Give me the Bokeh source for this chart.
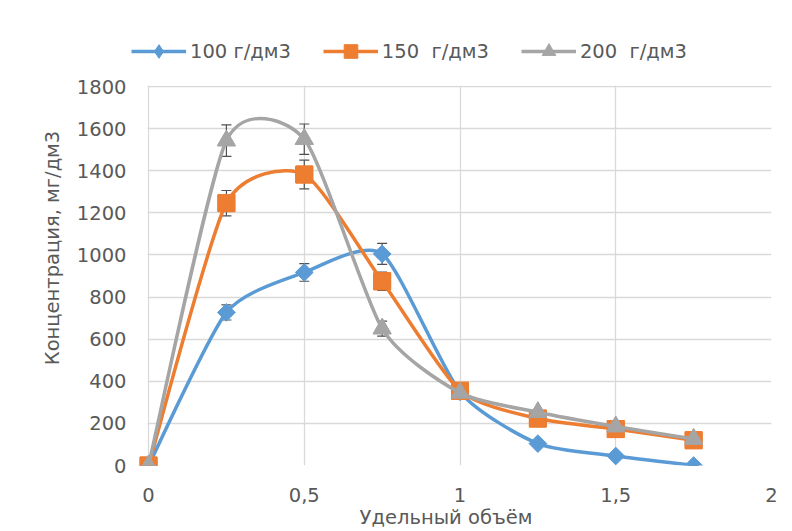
from bokeh.plotting import figure
from bokeh.models import (ColumnDataSource, Range1d, FixedTicker, CustomJSTickFormatter,
                          Whisker, TeeHead, Legend, LegendItem, BoxAnnotation)
from bokeh.embed import file_html
from bokeh.resources import INLINE

# ---- data ----
x_vals = [0, 0.25, 0.5, 0.75, 1.0, 1.25, 1.5, 1.75]
c100 = [0, 727, 917, 1005, 350, 104, 45, 0]
c150 = [0, 1246, 1382, 875, 355, 223, 173, 120]
c200 = [0, 1543, 1550, 650, 345, 253, 185, 126]
err100 = [0, 36, 42, 50, 0, 0, 0, 0]
err150 = [0, 60, 68, 43, 0, 0, 0, 0]
err200 = [0, 75, 72, 36, 0, 0, 0, 0]
labels = ["100 г/дм3", "150  г/дм3", "200  г/дм3"]
colors = ["#5B9BD5", "#ED7D31", "#A5A5A5"]
x_ticks = [0, 0.5, 1, 1.5, 2]
y_ticks = list(range(0, 1801, 200))

FONT = "DejaVu Sans"
FS = "19.5px"
TXT = "#595959"
GRID = "#d9d9d9"


def smooth_segments(xs, ys, f=0.11):
    n = len(xs)
    d = dict(x0=[], y0=[], x1=[], y1=[], cx0=[], cy0=[], cx1=[], cy1=[])
    for i in range(n - 1):
        xp, yp = (xs[i - 1], ys[i - 1]) if i > 0 else (xs[i], ys[i])
        xn2, yn2 = (xs[i + 2], ys[i + 2]) if i + 2 < n else (xs[i + 1], ys[i + 1])
        d["x0"].append(xs[i]); d["y0"].append(ys[i])
        d["x1"].append(xs[i + 1]); d["y1"].append(ys[i + 1])
        d["cx0"].append(xs[i] + (xs[i + 1] - xp) * f)
        d["cy0"].append(ys[i] + (ys[i + 1] - yp) * f)
        d["cx1"].append(xs[i + 1] - (xn2 - xs[i]) * f)
        d["cy1"].append(ys[i + 1] - (yn2 - ys[i]) * f)
    return d


# frame extends left of x=0 and above 1800 so the legend is not clipped;
# those strips are blanked out below.
p = figure(width=792, height=531, output_backend="svg", toolbar_location=None,
           x_range=Range1d(-0.09, 2), y_range=Range1d(0, 2066),
           min_border_left=120, min_border_right=21, min_border_top=30, min_border_bottom=66)
p.outline_line_color = None
p.background_fill_color = "white"
p.border_fill_color = "white"

for ax in (p.xaxis[0], p.yaxis[0]):
    ax.axis_line_color = None
    ax.major_tick_line_color = None
    ax.minor_tick_line_color = None
    ax.major_tick_out = 0
    ax.major_tick_in = 0
    ax.minor_tick_out = 0
    ax.major_label_text_font = FONT
    ax.major_label_text_font_size = FS
    ax.major_label_text_color = TXT
    ax.axis_label_text_font = FONT
    ax.axis_label_text_font_size = FS
    ax.axis_label_text_color = TXT
    ax.axis_label_text_font_style = "normal"

p.xaxis.ticker = FixedTicker(ticks=x_ticks)
p.yaxis.ticker = FixedTicker(ticks=y_ticks)
p.xaxis.formatter = CustomJSTickFormatter(code="return String(tick).replace('.', ',');")
p.xaxis.axis_label = "Удельный объём"
p.yaxis.axis_label = "Концентрация, мг/дм3"
p.xaxis.major_label_standoff = 22
p.xaxis.axis_label_standoff = 1
p.yaxis.major_label_standoff = -6
p.yaxis.axis_label_standoff = 10

p.xgrid.grid_line_color = GRID
p.ygrid.grid_line_color = GRID
p.xgrid.grid_line_width = 1.3
p.ygrid.grid_line_width = 1.3

for box in (BoxAnnotation(bottom=y_ticks[-1] + 4), BoxAnnotation(right=x_ticks[0] - 0.003)):
    box.fill_color = "white"
    box.fill_alpha = 1
    box.line_alpha = 0
    box.level = "underlay"
    p.add_layout(box)

marker_specs = [("square", 12.5, 0.785398), ("square", 17, 0.0), ("triangle", 18, 0.0)]
legend_markers = [("diamond", 11), ("square", 17), ("triangle", 18)]

items = []
for ys, errs, lab, col, (mk, size, ang), (lmk, lsize) in zip(
        [c100, c150, c200], [err100, err150, err200],
        labels, colors, marker_specs, legend_markers):
    seg = ColumnDataSource(smooth_segments(x_vals, ys))
    br = p.bezier(x0="x0", y0="y0", x1="x1", y1="y1", cx0="cx0", cy0="cy0",
                  cx1="cx1", cy1="cy1", source=seg, line_color=col, line_width=3.5)
    src = ColumnDataSource(dict(x=x_vals, y=ys,
                                up=[a + b for a, b in zip(ys, errs)],
                                lo=[a - b for a, b in zip(ys, errs)]))
    # marker used for the legend (hidden beneath the plotted markers)
    lr = p.scatter(x="x", y="y", source=src, marker=lmk, size=lsize,
                   fill_color=col, line_color=col)
    sr = p.scatter(x="x", y="y", source=src, marker=mk, size=size, angle=ang,
                   fill_color=col, line_color=col)
    w = Whisker(base="x", upper="up", lower="lo", source=src,
                line_color="#505050", line_width=1.2,
                upper_head=TeeHead(size=10, line_color="#505050", line_width=1.2),
                lower_head=TeeHead(size=10, line_color="#505050", line_width=1.2))
    p.add_layout(w)
    items.append(LegendItem(label=lab, renderers=[br, lr]))

leg = Legend(items=items, orientation="horizontal", location=(11, 397),
             glyph_width=55, glyph_height=34, label_standoff=4, spacing=32,
             padding=0, margin=0, border_line_color=None, background_fill_alpha=0,
             label_text_font=FONT, label_text_font_size=FS, label_text_color=TXT)
p.add_layout(leg, "center")

open("out.html", "w").write(file_html(p, INLINE))
